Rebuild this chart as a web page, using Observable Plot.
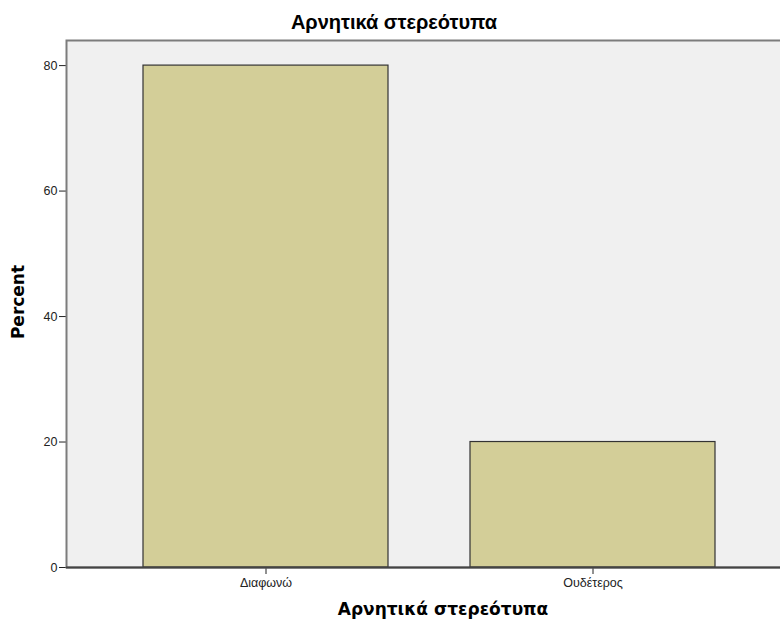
<!DOCTYPE html>
<html>
<head>
<meta charset="utf-8">
<script src="https://cdn.jsdelivr.net/npm/d3@7"></script>
<script src="https://cdn.jsdelivr.net/npm/@observablehq/plot@0.6"></script>
<style>
  html, body { margin: 0; padding: 0; background: #fff; }
  #wrap { position: relative; width: 780px; height: 626px; overflow: hidden; }
  .lbl { position: absolute; font-weight: bold; color: #000; white-space: nowrap; line-height: 1; }
</style>
</head>
<body>
<div id="wrap"></div>
<script>
const categories = ["Διαφωνώ", "Ουδέτερος"];
const percents = [80, 20];
const yTicks = [0, 20, 40, 60, 80];
const titleText = "Αρνητικά στερεότυπα";
const xLabelText = "Αρνητικά στερεότυπα";
const yLabelText = "Percent";

const data = categories.map((c, i) => ({category: c, percent: percents[i]}));

const chart = Plot.plot({
  width: 780,
  height: 626,
  marginLeft: 66,
  marginRight: -3,
  marginTop: 40,
  marginBottom: 59,
  style: {fontFamily: "'Liberation Sans', Arial, sans-serif", fontSize: "12.5px", color: "#222", background: "transparent"},
  x: {
    type: "band",
    domain: categories,
    range: [66, 793],
    paddingInner: 0.25,
    paddingOuter: 0.235,
    label: null,
    tickSize: 7,
    tickPadding: 4
  },
  y: {
    domain: [0, 84],
    ticks: yTicks,
    tickSize: 7,
    tickPadding: 2,
    label: null
  },
  marks: [
    Plot.frame({fill: "#f0f0f0", stroke: "#7c7c7c", strokeWidth: 2}),
    Plot.barY(data, {x: "category", y: "percent", fill: "#d3ce98", stroke: "#333", strokeWidth: 1.2}),
    Plot.ruleY([0], {stroke: "#444", strokeWidth: 2})
  ]
});

const wrap = document.getElementById("wrap");
wrap.appendChild(chart);

const t = document.createElement("div");
t.className = "lbl";
t.textContent = titleText;
t.style.cssText = "left:394px; top:12px; transform:translateX(-50%); font-size:20px; font-family:'Liberation Sans', Arial, sans-serif;";
wrap.appendChild(t);

const xl = document.createElement("div");
xl.className = "lbl";
xl.textContent = xLabelText;
xl.style.cssText = "left:443px; top:601px; transform:translateX(-50%); font-size:17px; font-family:'DejaVu Sans', sans-serif;";
wrap.appendChild(xl);

const yl = document.createElement("div");
yl.className = "lbl";
yl.textContent = yLabelText;
yl.style.cssText = "left:18px; top:302px; transform:translate(-50%,-50%) rotate(-90deg); font-size:17px; font-family:'DejaVu Sans', sans-serif;";
wrap.appendChild(yl);
</script>
</body>
</html>
